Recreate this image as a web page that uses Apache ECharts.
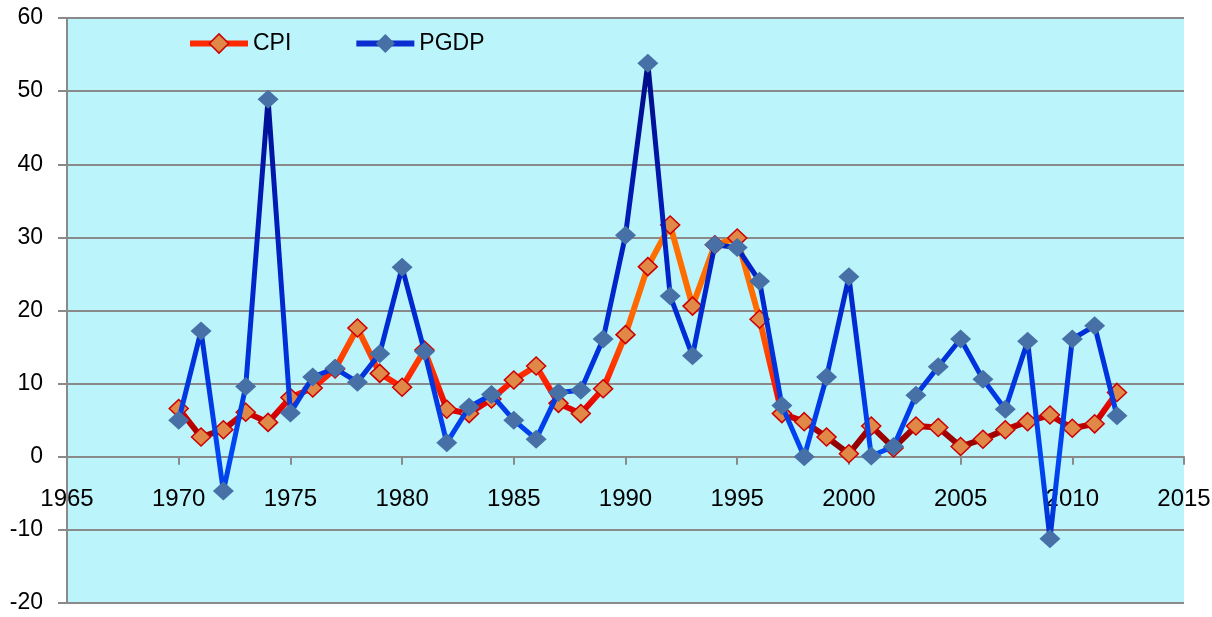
<!DOCTYPE html>
<html>
<head>
<meta charset="utf-8">
<script src="https://cdn.jsdelivr.net/npm/echarts@6/dist/echarts.min.js"></script>
<style>
html,body{margin:0;padding:0;background:#fff;}
#chart{width:1212px;height:617px;}
</style>
</head>
<body>
<div id="chart"></div>
<script>
const years = [1970,1971,1972,1973,1974,1975,1976,1977,1978,1979,1980,1981,1982,1983,1984,1985,1986,1987,1988,1989,1990,1991,1992,1993,1994,1995,1996,1997,1998,1999,2000,2001,2002,2003,2004,2005,2006,2007,2008,2009,2010,2011,2012];
const cpi  = [6.6,2.7,3.7,6.1,4.7,8.1,9.4,12.0,17.6,11.4,9.5,14.6,6.5,5.9,7.9,10.5,12.4,7.3,5.9,9.3,16.7,26.0,31.7,20.6,29.0,29.9,18.8,5.9,4.8,2.7,0.4,4.2,1.2,4.2,4.0,1.4,2.4,3.7,4.8,5.7,3.9,4.5,8.8];
const pgdp = [5.0,17.2,-4.7,9.6,48.9,6.0,10.9,12.1,10.2,14.1,25.9,14.4,1.9,6.8,8.5,5.0,2.4,8.8,9.1,16.1,30.3,53.8,22.0,13.8,29.0,28.6,24.0,7.0,0.0,10.9,24.6,0.1,1.4,8.4,12.3,16.1,10.6,6.5,15.8,-11.2,16.1,17.9,5.6];
const seriesNames = ['CPI','PGDP'];
const xTicks = {min:1965, max:2015, step:5};
const yTicks = {min:-20, max:60, step:10};

const chart = echarts.init(document.getElementById('chart'), null, {renderer:'canvas'});
const G = echarts.graphic.LinearGradient;
const cpiGrad = new G(0, 18, 0, 603, [
  {offset:0, color:'#FF8400'},
  {offset:0.50, color:'#FF6A00'},
  {offset:0.563, color:'#FF4A00'},
  {offset:0.625, color:'#FF2000'},
  {offset:0.675, color:'#D80000'},
  {offset:0.713, color:'#A00000'},
  {offset:0.75, color:'#840000'},
  {offset:1, color:'#840000'}
], true);
const pgdpGrad = new G(0, 18, 0, 603, [
  {offset:0, color:'#000A78'},
  {offset:0.075, color:'#000C84'},
  {offset:0.25, color:'#0016A8'},
  {offset:0.438, color:'#0024C8'},
  {offset:0.625, color:'#0036E0'},
  {offset:0.75, color:'#0048F5'},
  {offset:0.888, color:'#0030D0'},
  {offset:1, color:'#0030D0'}
], true);

const axisFont = {fontFamily:'"Liberation Sans", Arial, sans-serif', fontSize:23, color:'#000'};
const gray = '#8a8a8a';
const gridTop = 18, gridBottom = 14, H = 617;
const zeroOffset = -((H - gridBottom) - (gridTop + (H - gridTop - gridBottom) * (yTicks.max - 0) / (yTicks.max - yTicks.min)));

chart.setOption({
  animation:false,
  backgroundColor:'#ffffff',
  grid:{left:67, right:28, top:gridTop, bottom:gridBottom, show:true, backgroundColor:'#BBF4FB', borderWidth:0, containLabel:false, outerBoundsMode:'none'},
  legend:{
    left:182, top:27, itemWidth:58, itemHeight:24, itemGap:62,
    textStyle:{fontFamily:'"Liberation Sans", Arial, sans-serif', fontSize:23, color:'#000'},
    data:[
      {name:seriesNames[0], lineStyle:{color:'#FF2A00', width:6}, itemStyle:{color:'#E08848', borderColor:'#CC0000', borderWidth:1.5}},
      {name:seriesNames[1], lineStyle:{color:'#0A2ED0', width:6}, itemStyle:{color:'#4670A6'}}
    ]
  },
  xAxis:{
    type:'value', min:xTicks.min, max:xTicks.max, interval:xTicks.step,
    position:'bottom', offset:zeroOffset,
    axisLine:{show:true, onZero:false, lineStyle:{color:gray, width:2}},
    axisTick:{show:true, inside:false, length:8, lineStyle:{color:gray, width:2}},
    axisLabel:{...axisFont, fontSize:24, margin:31, showMinLabel:true, showMaxLabel:true, formatter:v=>String(v)},
    splitLine:{show:false}
  },
  yAxis:{
    type:'value', min:yTicks.min, max:yTicks.max, interval:yTicks.step,
    axisLine:{show:true, lineStyle:{color:gray, width:2}},
    axisTick:{show:true, inside:false, length:9, lineStyle:{color:gray, width:2}},
    axisLabel:{...axisFont, margin:24, formatter:v=>String(v)},
    splitLine:{show:true, lineStyle:{color:gray, width:2}}
  },
  series:[
    {
      name:seriesNames[0], type:'line',
      data:years.map((y,i)=>[y,cpi[i]]),
      symbol:'diamond', symbolSize:[19,18],
      lineStyle:{color:cpiGrad, width:6},
      itemStyle:{color:'#E08848', borderColor:'#CC0000', borderWidth:1.5},
      z:2
    },
    {
      name:seriesNames[1], type:'line',
      data:years.map((y,i)=>[y,pgdp[i]]),
      symbol:'diamond', symbolSize:[21,19],
      lineStyle:{color:pgdpGrad, width:5},
      itemStyle:{color:'#4670A6'},
      z:3
    }
  ]
});
</script>
</body>
</html>
